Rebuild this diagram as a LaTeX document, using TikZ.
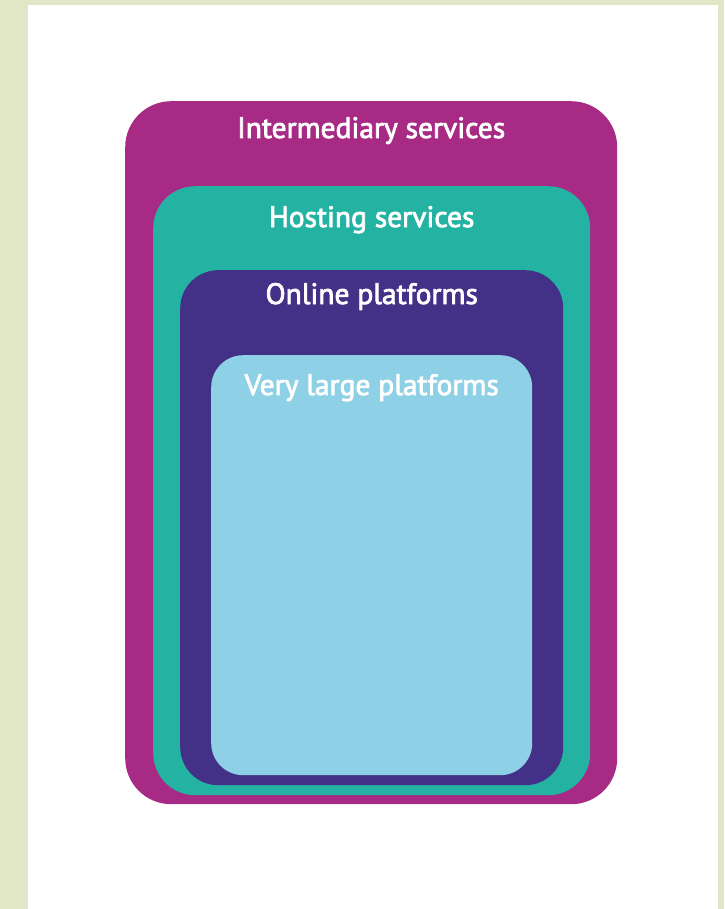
\documentclass[tikz,border=0pt]{standalone}
\usepackage{fontspec}
\setmainfont{PT Sans}
\usetikzlibrary{positioning}
\definecolor{pagebg}{HTML}{E1E6C6}
\definecolor{intercol}{HTML}{A72A85}
\definecolor{hostcol}{HTML}{24B3A3}
\definecolor{onlinecol}{HTML}{433187}
\definecolor{verycol}{HTML}{8ED0E6}
\tikzset{
x=1pt, y=-1pt,
box/.style={rectangle,rounded corners=#1,inner sep=0pt,anchor=north west},
lbl/.style={text=white,inner sep=0pt,anchor=base,font=\fontsize{29.5}{32}\selectfont\addfontfeature{FakeBold=2.5}}}

\begin{document}
\begin{tikzpicture}
\useasboundingbox[fill=pagebg] (0,0) rectangle (724,909);
\fill[white] (28,5) rectangle (718,909);

\node[box=46pt,fill=intercol,minimum width=492pt,minimum height=703pt] (inter) at (125,101) {};
\node[box=42pt,fill=hostcol,minimum width=437pt,minimum height=609pt] (host) at (153,186) {};
\node[box=38pt,fill=onlinecol,minimum width=383pt,minimum height=515pt] (online) at (180,270) {};
\node[box=32pt,fill=verycol,minimum width=321pt,minimum height=420pt] (very) at (211,355) {};

\node[lbl,below=37pt of inter.north,anchor=base] (intertxt) {Intermediary services};
\node[lbl,below=41pt of host.north,anchor=base] (hosttxt) {Hosting services};
\node[lbl,below=34pt of online.north,anchor=base] (onlinetxt) {Online platforms};
\node[lbl,below=40pt of very.north,anchor=base] (verytxt) {Very large platforms};
\end{tikzpicture}
\end{document}
